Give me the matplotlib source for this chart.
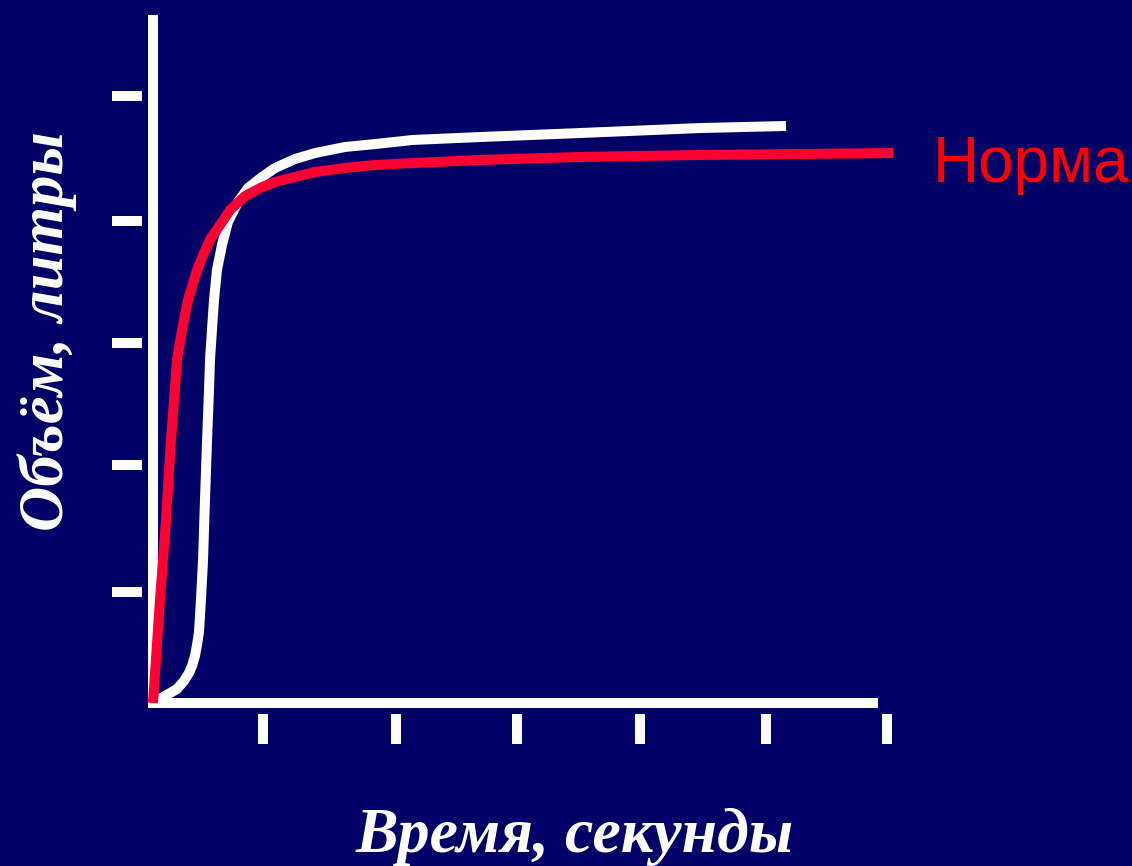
import matplotlib
matplotlib.use('Agg')
import matplotlib.pyplot as plt

W, H, DPI = 1132, 866, 100

# ---- data (time in arbitrary seconds, volume in litres) ----
white_t = [0.0, 0.016, 0.082, 0.139, 0.196, 0.253, 0.294, 0.319, 0.343, 0.360, 0.376,
           0.392, 0.409, 0.425, 0.442, 0.458, 0.466, 0.482, 0.499, 0.523, 0.564,
           0.613, 0.695, 0.777, 0.891, 0.998, 1.161, 1.325, 1.570, 1.815, 2.126,
           2.674, 3.491, 4.473, 5.176]
white_v = [0.0, 0.016, 0.049, 0.082, 0.115, 0.181, 0.247, 0.305, 0.387, 0.478, 0.585,
           0.848, 1.178, 1.672, 2.166, 2.578, 2.825, 3.072, 3.320, 3.567, 3.773,
           3.962, 4.127, 4.242, 4.333, 4.407, 4.481, 4.530, 4.580, 4.604, 4.638,
           4.662, 4.695, 4.736, 4.753]

red_t = [0.0, 0.057, 0.106, 0.147, 0.172, 0.196, 0.237, 0.286, 0.360, 0.417, 0.474,
         0.548, 0.630, 0.752, 0.891, 0.998, 1.161, 1.325, 1.570, 1.815, 2.126,
         2.674, 3.491, 4.473, 6.051]
red_v = [0.0, 0.848, 1.507, 2.166, 2.496, 2.825, 3.072, 3.320, 3.567, 3.707, 3.830,
         3.937, 4.061, 4.176, 4.250, 4.292, 4.333, 4.374, 4.407, 4.432, 4.448,
         4.473, 4.498, 4.514, 4.530]

x_ticks = [0.9, 1.99, 2.98, 3.98, 5.01, 6.0]
y_ticks = [0.914, 1.96, 2.965, 3.97, 4.996]
x_axis_end = 5.887
y_axis_end = 5.63

xlabel = 'Время, секунды'
ylabel = 'Объём, литры'
curve_label = 'Норма'

BG = '#000066'
RED_LINE = '#FF0033'
RED_TEXT = '#FF0000'
LW = 7.2  # ~10 px

fig = plt.figure(figsize=(W / DPI, H / DPI), dpi=DPI, facecolor=BG)
ax = fig.add_axes([153 / W, (H - 703) / H, (900 - 153) / W, (703 - 5) / H])
ax.set_facecolor(BG)
ax.set_xlim(0, (900 - 153) / 122.3)
ax.set_ylim(0, (703 - 5) / 121.4)

for s in ax.spines.values():
    s.set_visible(False)
ax.spines['left'].set_position(('outward', 7.92))
ax.spines['bottom'].set_position(('outward', 7.92))
ax.set_xticks(x_ticks)
ax.set_yticks(y_ticks)
ax.tick_params(direction='out', length=21.6, width=7.2, color='white',
               labelleft=False, labelbottom=False)

# axis lines
ax.plot([0, x_axis_end], [0, 0], color='white', lw=LW,
        solid_capstyle='projecting', clip_on=False, zorder=2)
ax.plot([0, 0], [0, y_axis_end], color='white', lw=LW,
        solid_capstyle='projecting', clip_on=False, zorder=2)

# curves
ax.plot(white_t, white_v, color='white', lw=LW, solid_capstyle='butt',
        solid_joinstyle='round', clip_on=False, zorder=3)
ax.plot(red_t, red_v, color=RED_LINE, lw=LW, solid_capstyle='butt',
        solid_joinstyle='round', clip_on=False, zorder=4)

# texts
fig.text(933 / W, (H - 182) / H, curve_label, color=RED_TEXT,
         fontsize=46, family='Liberation Sans', ha='left', va='baseline')
fig.text(575 / W, (H - 852) / H, xlabel, color='white', fontsize=46,
         family='Liberation Serif', fontweight='bold', fontstyle='italic',
         ha='center', va='baseline')
fig.text(63 / W, (H - 331) / H, ylabel, color='white', fontsize=45,
         family='Liberation Serif', fontweight='bold', fontstyle='italic',
         ha='center', va='baseline', rotation=90, rotation_mode='anchor')

fig.savefig('out.png', dpi=DPI, facecolor=BG)
